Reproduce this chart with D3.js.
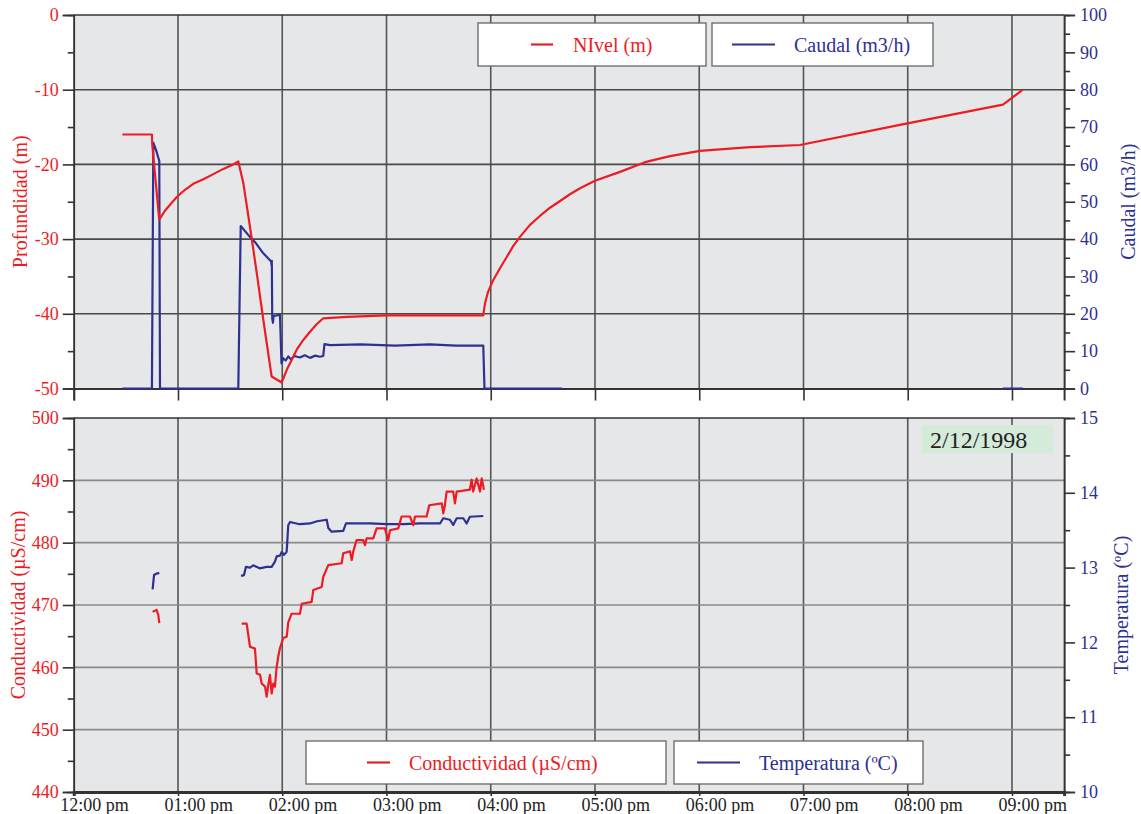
<!DOCTYPE html>
<html>
<head>
<meta charset="utf-8">
<script src="https://cdn.jsdelivr.net/npm/d3@7"></script>
<style>
  body { margin: 0; background: #fff; }
  text { font-family: "Liberation Serif", "Times New Roman", serif; }
</style>
</head>
<body>
<svg id="chart" width="1141" height="814"></svg>
<script>
// ---- Data: pumping test, 2/12/1998 ----
// Water level (m, depth negative) [time, value]
const nivel = [
  ["12:28:00", -16.0], ["12:45:00", -16.0], ["12:45:12", -17.4], ["12:49:12", -27.4],
  ["12:50:36", -26.9], ["12:52:30", -26.2], ["12:55:24", -25.4], ["12:59:12", -24.4],
  ["13:04:00", -23.4], ["13:08:48", -22.6], ["13:14:36", -22.0], ["13:20:18", -21.3],
  ["13:26:06", -20.6], ["13:31:48", -20.0], ["13:34:42", -19.6], ["13:37:36", -22.5],
  ["13:41:24", -28.3], ["13:45:18", -34.5], ["13:49:06", -40.8], ["13:53:54", -48.4],
  ["13:59:42", -49.2], ["14:02:36", -47.5], ["14:05:24", -46.2], ["14:08:18", -44.8],
  ["14:12:06", -43.5], ["14:16:00", -42.4], ["14:19:48", -41.4], ["14:23:36", -40.6],
  ["14:37:06", -40.4], ["15:00:06", -40.2], ["15:55:42", -40.2], ["15:56:42", -38.6],
  ["15:58:24", -37.1], ["16:01:24", -35.5], ["16:05:18", -33.9], ["16:09:12", -32.4],
  ["16:13:00", -30.9], ["16:16:48", -29.7], ["16:22:36", -28.1], ["16:28:18", -26.9],
  ["16:34:06", -25.8], ["16:39:54", -24.9], ["16:45:36", -24.0], ["16:51:24", -23.2],
  ["17:00:00", -22.2], ["17:14:24", -21.0], ["17:28:48", -19.7], ["17:43:12", -18.9],
  ["18:00:24", -18.2], ["18:29:12", -17.7], ["18:58:00", -17.4], ["19:55:30", -14.7],
  ["20:54:48", -12.0], ["21:06:18", -10.0]
];

// Flow rate (m3/h) [time, value]; null marks a gap in the record
const caudal = [
  ["12:28:00", 0], ["12:45:00", 0], ["12:45:48", 65.8], ["12:47:20", 63.9],
  ["12:49:14", 60.9], ["12:49:38", 0], ["13:34:42", 0], ["13:36:06", 43.5],
  ["13:41:24", 40.6], ["13:45:00", 38.8], ["13:49:06", 36.2], ["13:53:38", 34.0],
  ["13:53:50", 33.0], ["13:54:00", 34.2], ["13:54:14", 18.8], ["13:54:40", 17.6],
  ["13:55:00", 19.4], ["13:58:42", 19.7], ["13:59:34", 6.7], ["14:00:36", 8.1],
  ["14:02:00", 7.5], ["14:03:30", 8.6], ["14:05:00", 7.8], ["14:07:00", 8.7],
  ["14:10:12", 8.3], ["14:13:00", 8.9], ["14:16:00", 8.2], ["14:19:00", 8.8],
  ["14:21:42", 8.5], ["14:23:36", 8.7], ["14:24:18", 11.9], ["14:27:30", 11.6],
  ["14:45:00", 11.8], ["15:05:00", 11.5], ["15:25:00", 11.8], ["15:40:00", 11.5],
  ["15:55:42", 11.5], ["15:56:24", 0], ["16:41:00", 0], ["16:41:00", null],
  ["20:54:48", 0], ["21:06:18", 0]
];

// Conductivity (µS/cm) [time, value], two recorded runs
const conductividad1 = [
  ["12:45:24", 468.9], ["12:47:44", 469.2], ["12:48:40", 468.4], ["12:49:14", 467.1]
];
const conductividad2 = [
  ["13:36:40", 467.0], ["13:39:30", 467.0], ["13:39:54", 466.3], ["13:41:26", 463.3],
  ["13:44:18", 463.0], ["13:45:18", 459.0], ["13:47:12", 458.8], ["13:48:10", 457.4],
  ["13:50:06", 456.9], ["13:51:02", 455.3], ["13:51:58", 457.2], ["13:52:56", 458.8],
  ["13:53:54", 455.8], ["13:54:50", 457.4], ["13:55:48", 456.9], ["13:56:48", 460.1],
  ["13:57:42", 461.7], ["13:58:42", 463.1], ["14:00:36", 464.7], ["14:02:32", 464.9],
  ["14:03:28", 467.2], ["14:05:24", 468.6], ["14:10:12", 468.6], ["14:11:12", 470.2],
  ["14:16:56", 470.5], ["14:17:52", 472.4], ["14:22:42", 472.9], ["14:23:36", 474.5],
  ["14:26:30", 476.4], ["14:34:12", 476.7], ["14:35:06", 478.3], ["14:39:00", 478.6],
  ["14:40:00", 477.2], ["14:40:54", 478.6], ["14:42:48", 480.4], ["14:46:36", 480.4],
  ["14:47:36", 479.6], ["14:48:36", 480.7], ["14:52:24", 480.7], ["14:54:18", 482.3],
  ["14:59:06", 482.3], ["15:01:00", 480.4], ["15:02:00", 482.0], ["15:06:48", 482.3],
  ["15:08:42", 484.2], ["15:13:30", 484.2], ["15:15:24", 482.8], ["15:16:24", 484.2],
  ["15:23:06", 484.2], ["15:24:36", 486.0], ["15:31:48", 486.3], ["15:32:42", 484.7],
  ["15:33:36", 486.0], ["15:34:36", 488.2], ["15:38:24", 488.2], ["15:39:24", 486.3],
  ["15:40:24", 488.2], ["15:48:00", 488.5], ["15:49:00", 490.1], ["15:49:54", 488.2],
  ["15:51:54", 490.3], ["15:53:48", 488.2], ["15:54:48", 490.3], ["15:56:06", 488.5]
];

// Temperature (ºC) [time, value], two recorded runs
const temperatura1 = [
  ["12:45:24", 12.71], ["12:46:12", 12.90], ["12:47:44", 12.92], ["12:49:14", 12.93]
];
const temperatura2 = [
  ["13:36:18", 12.89], ["13:38:00", 12.90], ["13:39:06", 13.01], ["13:41:26", 13.00],
  ["13:43:18", 13.03], ["13:47:00", 12.99], ["13:51:02", 13.01], ["13:53:54", 13.01],
  ["13:55:48", 13.08], ["13:56:48", 13.15], ["13:58:42", 13.16], ["13:59:42", 13.21],
  ["14:01:00", 13.17], ["14:02:32", 13.21], ["14:03:28", 13.57], ["14:04:30", 13.61],
  ["14:10:00", 13.58], ["14:16:00", 13.59], ["14:20:00", 13.62], ["14:25:36", 13.64],
  ["14:26:30", 13.53], ["14:28:24", 13.48], ["14:35:06", 13.49], ["14:36:42", 13.59],
  ["14:50:30", 13.59], ["15:00:06", 13.58], ["15:09:42", 13.58], ["15:19:18", 13.59],
  ["15:30:48", 13.59], ["15:32:42", 13.66], ["15:36:30", 13.64], ["15:38:24", 13.57],
  ["15:40:24", 13.66], ["15:44:12", 13.66], ["15:46:06", 13.59], ["15:48:00", 13.68],
  ["15:55:42", 13.69]
];

// Axis ticks and labels
const hourTicks = ["12:00:00", "13:00:00", "14:00:00", "15:00:00", "16:00:00",
                   "17:00:00", "18:00:00", "19:00:00", "20:00:00", "21:00:00"];
const hourLabels = ["12:00 pm", "01:00 pm", "02:00 pm", "03:00 pm", "04:00 pm",
                    "05:00 pm", "06:00 pm", "07:00 pm", "08:00 pm", "09:00 pm"];
const nivelTicks = [0, -10, -20, -30, -40, -50];
const caudalTicks = [0, 10, 20, 30, 40, 50, 60, 70, 80, 90, 100];
const condTicks = [440, 450, 460, 470, 480, 490, 500];
const tempTicks = [10, 11, 12, 13, 14, 15];
const dateLabel = "2/12/1998";

// ---- Drawing ----
const RED = "#ed1c24", NAVY = "#2e3192", AXIS = "#333", BG = "#e6e7e9";
const day = "1998-12-02 ";
const parse = d3.timeParse("%Y-%m-%d %H:%M:%S");
const t = s => parse(day + s);

const svg = d3.select("#chart");
const L = 73.75, R = 1064.1;
const pTop = { y0: 15, y1: 388.5 }, pBot = { y0: 418, y1: 792 };

const x = d3.scaleTime().domain([t("12:00:00"), t("21:30:00")]).range([L, R]);
const yNivel = d3.scaleLinear().domain([-50, 0]).range([pTop.y1, pTop.y0]);
const yCaudal = d3.scaleLinear().domain([0, 100]).range([pTop.y1, pTop.y0]);
const yCond = d3.scaleLinear().domain([440, 500]).range([pBot.y1, pBot.y0]);
const yTemp = d3.scaleLinear().domain([10, 15]).range([pBot.y1, pBot.y0]);

const hours = hourTicks.map(t);
const plain = d => String(d);

function panel(p, yGrid, gridVals, hColor) {
  svg.append("rect").attr("x", L).attr("y", p.y0).attr("width", R - L)
    .attr("height", p.y1 - p.y0).attr("fill", BG);
  const g = svg.append("g");
  g.selectAll(".v").data(hours.slice(1)).join("line")
    .attr("x1", d => x(d)).attr("x2", d => x(d))
    .attr("y1", p.y0).attr("y2", p.y1)
    .attr("stroke", "#555").attr("stroke-width", 1.6);
  g.selectAll(".h").data(gridVals).join("line")
    .attr("x1", L).attr("x2", R)
    .attr("y1", d => yGrid(d)).attr("y2", d => yGrid(d))
    .attr("stroke", hColor).attr("stroke-width", 1.6);
}
panel(pTop, yNivel, [-10, -20, -30, -40], "#4a4a4a");
panel(pBot, yCond, [450, 460, 470, 480, 490], "#8a8a8a");

function styleAxis(g, color, size) {
  g.select(".domain").attr("stroke", AXIS).attr("stroke-width", 1.6);
  g.selectAll(".tick line").attr("stroke", AXIS).attr("stroke-width", 1.6);
  g.selectAll(".tick text").attr("fill", color).attr("font-size", size)
    .attr("font-family", '"Liberation Serif", "Times New Roman", serif');
}
const minor = (vals, step) => d3.range(d3.min(vals) + step / 2, d3.max(vals), step);

function yAxes(yl, yr, lt, rt, lstep, rstep) {
  styleAxis(svg.append("g").attr("transform", `translate(${L},0)`)
    .call(d3.axisLeft(yl).tickValues(lt).tickSize(11).tickPadding(4).tickFormat(plain)), RED, 18);
  styleAxis(svg.append("g").attr("transform", `translate(${L},0)`)
    .call(d3.axisLeft(yl).tickValues(minor(lt, lstep)).tickSize(6).tickFormat("")), RED, 18);
  styleAxis(svg.append("g").attr("transform", `translate(${R},0)`)
    .call(d3.axisRight(yr).tickValues(rt).tickSize(11).tickPadding(5).tickFormat(plain)), NAVY, 18);
  styleAxis(svg.append("g").attr("transform", `translate(${R},0)`)
    .call(d3.axisRight(yr).tickValues(minor(rt, rstep)).tickSize(6).tickFormat("")), NAVY, 18);
}
yAxes(yNivel, yCaudal, nivelTicks, caudalTicks, 10, 10);
yAxes(yCond, yTemp, condTicks, tempTicks, 10, 1);

// frame tops
[pTop, pBot].forEach(p => {
  svg.append("line").attr("x1", L).attr("x2", R).attr("y1", p.y0).attr("y2", p.y0)
    .attr("stroke", AXIS).attr("stroke-width", 1.6);
});

// x axes
const xTop = svg.append("g").attr("transform", `translate(0,${pTop.y1})`)
  .call(d3.axisBottom(x).tickValues(hours).tickSize(12).tickFormat(""));
styleAxis(xTop, "#222", 18);
xTop.select(".domain").attr("stroke-width", 2);

const xBot = svg.append("g").attr("transform", `translate(0,${pBot.y1})`)
  .call(d3.axisBottom(x).tickValues(hours).tickSize(4).tickPadding(2)
    .tickFormat((d, i) => hourLabels[i]));
styleAxis(xBot, "#222", 18);
xBot.select(".domain").attr("stroke-width", 3);
// labels begin just left of their hour line
xBot.selectAll(".tick text").attr("text-anchor", "start").attr("dx", -14);

// series lines
function series(data, yScale, color) {
  const line = d3.line()
    .defined(d => d[1] !== null)
    .x(d => x(t(d[0]))).y(d => yScale(d[1]));
  svg.append("path").datum(data).attr("d", line)
    .attr("fill", "none").attr("stroke", color).attr("stroke-width", 2.2)
    .attr("stroke-linejoin", "round");
}
series(caudal, yCaudal, NAVY);
series(nivel, yNivel, RED);
series(temperatura1, yTemp, NAVY);
series(temperatura2, yTemp, NAVY);
series(conductividad1, yCond, RED);
series(conductividad2, yCond, RED);

// legends
function legend(bx, by, bw, lx1, lx2, tx, label, color) {
  svg.append("rect").attr("x", bx).attr("y", by).attr("width", bw).attr("height", 43)
    .attr("fill", "#fff").attr("stroke", "#666").attr("stroke-width", 1.3);
  svg.append("line").attr("x1", lx1).attr("x2", lx2)
    .attr("y1", by + 21.5).attr("y2", by + 21.5)
    .attr("stroke", color).attr("stroke-width", 2.2);
  svg.append("text").attr("x", tx).attr("y", by + 28.5)
    .attr("font-size", 20).attr("fill", color).text(label);
}
legend(478, 23, 228, 531, 553, 573, "NIvel (m)", RED);
legend(712, 23, 221, 732, 775, 794, "Caudal (m3/h)", NAVY);
legend(306, 741, 360, 367, 390, 409, "Conductividad (\u00B5S/cm)", RED);
legend(674, 741, 249, 697, 740, 759, "Temperatura (\u00BAC)", NAVY);

// axis titles
function vTitle(cx, cy, label, color) {
  svg.append("text").attr("transform", `translate(${cx},${cy}) rotate(-90)`)
    .attr("text-anchor", "middle").attr("dominant-baseline", "central")
    .attr("font-size", 20).attr("fill", color).text(label);
}
vTitle(20, (pTop.y0 + pTop.y1) / 2, "Profundidad (m)", RED);
vTitle(1128, (pTop.y0 + pTop.y1) / 2, "Caudal (m3/h)", NAVY);
vTitle(18, (pBot.y0 + pBot.y1) / 2, "Conductividad (\u00B5S/cm)", RED);
vTitle(1121, (pBot.y0 + pBot.y1) / 2, "Temperatura (\u00BAC)", NAVY);

// date tag
svg.append("rect").attr("x", 922).attr("y", 425).attr("width", 131).attr("height", 28)
  .attr("fill", "#d4ebda");
svg.append("text").attr("x", 930).attr("y", 448).attr("font-size", 24)
  .attr("fill", "#222").text(dateLabel);
</script>
</body>
</html>
